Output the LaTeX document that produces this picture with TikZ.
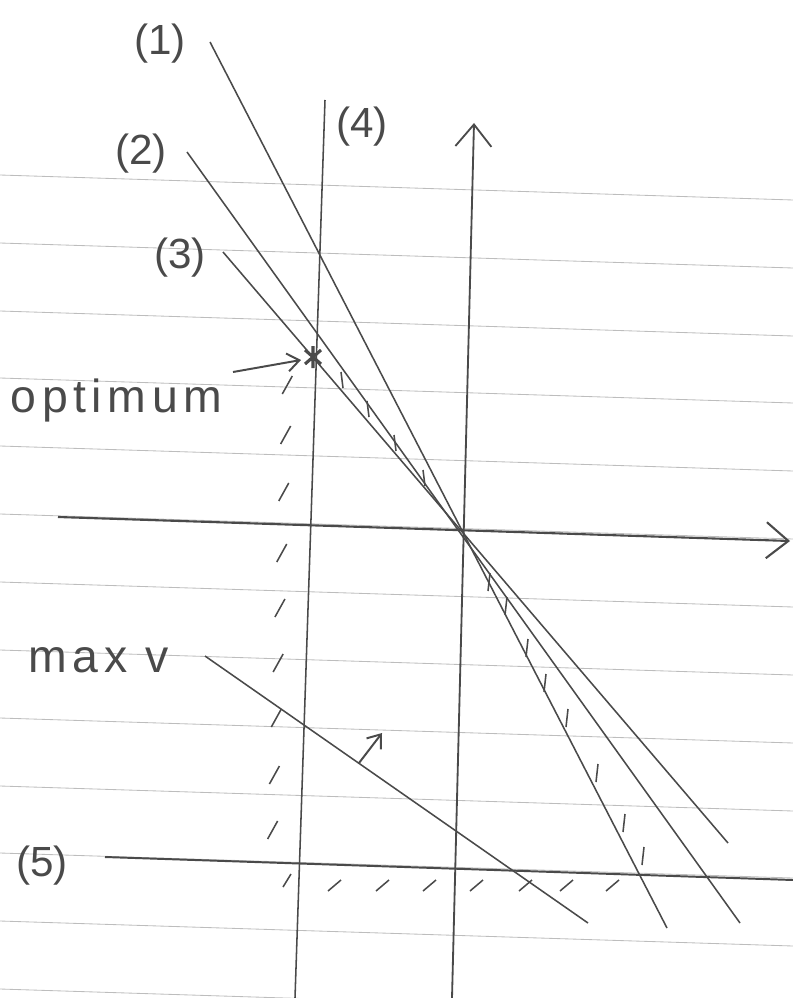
\documentclass[tikz,border=0pt]{standalone}
\usepackage{fontspec}
\setmainfont{Liberation Sans}
\usetikzlibrary{arrows.meta}
\definecolor{pencil}{HTML}{4A4A4A}
\definecolor{ruling}{HTML}{BDBDBD}

\begin{document}
\begin{tikzpicture}[x=0.025cm,y=-0.025cm,line width=1.1pt,draw=pencil,
    >={Straight Barb[length=5.5mm,width=9mm]},
    lbl/.style={text=pencil,font=\fontsize{30}{36}\selectfont,inner sep=0pt},
    word/.style={text=pencil,font=\fontsize{33}{38}\selectfont\addfontfeatures{LetterSpace=12},inner sep=0pt},
    hatch/.style={line width=1.1pt,pencil}]
\useasboundingbox (0,0) rectangle (793,998);
% ---------- ruled paper ----------
\foreach \y in {175,243,311,378,446,514,582,650,718,786,853,921,989}{
  \draw[ruling,line width=0.6pt] (0,\y) -- (793,\y+25);}
% ---------- axes ----------
\draw[->,line width=1.5pt] (58,517) -- (790,541);
\draw[->,line width=1.3pt] (452,998) -- (474,123);
% ---------- constraints ----------
\draw (210,42) -- (667,928);   % (1)
\draw (187,152) -- (740,923);  % (2)
\draw (223,252) -- (728,843);  % (3)
\draw (325,100) -- (295,998);  % (4)
\draw[line width=1.4pt] (105,857) -- (793,880); % (5)
\node[lbl] (l1) at (160,44) {(1)};
\node[lbl] (l2) at (141,154) {(2)};
\node[lbl] (l3) at (180,258) {(3)};
\node[lbl] (l4) at (362,127) {(4)};
\node[lbl] (l5) at (42,866) {(5)};
% hatching along (4)
\foreach \y in {385,435,492,553,608,663,718,775,830}{
  \draw[hatch] (295-0.033*\y,\y+9) -- ++(10,-18);}
\draw[hatch] (283,887) -- ++(8,-13);
% hatching under (5)
\foreach \x in {328,376,423,470,519,560,606}{
  \draw[hatch] (\x,891) -- ++(13,-11);}
% hatching between (2) and (3), and along (1)
\foreach \x/\y in {341/380,367/409,394/443,423/478}{
  \draw[hatch] (\x,\y-8) -- ++(2,16);}
\foreach \x/\y in {490/582,507/606,528/648,546/683,568/718,598/773,625/823,644/856}{
  \draw[hatch] (\x,\y-9) -- ++(-2,18);}
% ---------- optimum ----------
\coordinate (opt) at (313,357);
\draw[line width=2.2pt] (305,350) -- (321,364) (305,364) -- (321,350)
  (313,346) -- (313,368);
\node[word,anchor=west] (optimum) at (10,400) {optimum};
\draw[->,line width=1.4pt,{Straight Barb[length=3mm,width=4.5mm]}-] (opt) ++(-12,3) -- (233,372);
% ---------- objective ----------
\draw (205,656) -- (588,923);
\draw[->,line width=1.4pt,>={Straight Barb[length=3mm,width=4.5mm]}] (359,763) -- (382,733);
\node[word,anchor=west] (maxv) at (28,660) {max v};
\end{tikzpicture}
\end{document}
